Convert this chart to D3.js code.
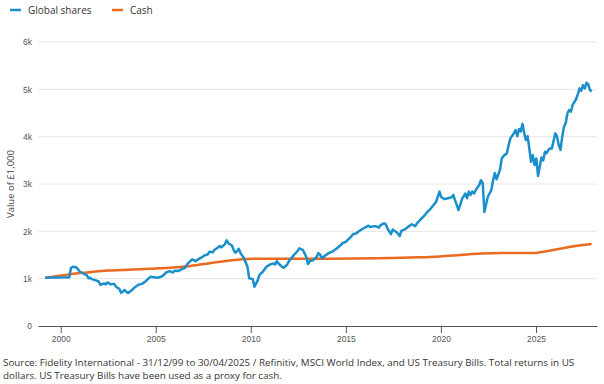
<!DOCTYPE html>
<html>
<head>
<meta charset="utf-8">
<script src="https://cdn.jsdelivr.net/npm/d3@7"></script>
<style>
  body { margin: 0; background: #fff; }
  svg { display: block; font-family: 'Open Sans', Lato, sans-serif; }
</style>
</head>
<body>
<div class="chart"></div>
<script>
// series names / colours
const seriesNames = ['Global shares', 'Cash']
const seriesColors = ['#1a8fcc', '#eb6a1f']

// global shares, value of £1,000 (monthly)
const sharesDates = [
  '1999-01','2000-03','2000-04','2000-05','2000-07','2000-08','2000-09','2000-10','2000-12',
  '2001-01','2001-02','2001-03','2001-04','2001-06','2001-08','2001-09','2001-11','2001-12',
  '2002-01','2002-03','2002-05','2002-06','2002-08','2002-09','2002-11','2002-12',
  '2003-01','2003-03','2003-05','2003-07','2003-09','2003-11',
  '2004-01','2004-02','2004-04','2004-06','2004-08','2004-09','2004-11',
  '2005-01','2005-03','2005-04','2005-06','2005-08','2005-10','2005-11',
  '2006-01','2006-02','2006-04','2006-06','2006-08','2006-09','2006-11','2006-12',
  '2007-02','2007-03','2007-05','2007-06','2007-07','2007-09','2007-10','2007-11',
  '2008-01','2008-02','2008-03','2008-04','2008-05','2008-06','2008-08','2008-10','2008-11',
  '2009-01','2009-02','2009-04','2009-05','2009-07','2009-09','2009-11',
  '2010-01','2010-02','2010-03','2010-04','2010-06','2010-07','2010-09','2010-10','2010-12',
  '2011-01','2011-03','2011-04','2011-06','2011-07','2011-08','2011-09','2011-10','2011-12',
  '2012-02','2012-03','2012-04','2012-05','2012-07','2012-09','2012-11',
  '2013-01','2013-03','2013-04','2013-05','2013-07','2013-08','2013-10','2013-11',
  '2014-01','2014-02','2014-04','2014-05','2014-07','2014-08','2014-09','2014-11','2014-12',
  '2015-02','2015-03','2015-05','2015-06','2015-07','2015-09','2015-10','2015-11','2015-12',
  '2016-02','2016-03','2016-05','2016-07','2016-09','2016-11','2016-12',
  '2017-02','2017-04','2017-06','2017-08','2017-09','2017-11','2017-12',
  '2018-01','2018-02','2018-04','2018-06','2018-08','2018-09','2018-10','2018-11','2018-12',
  '2019-01','2019-02','2019-04','2019-05','2019-06','2019-07','2019-08','2019-09','2019-10','2019-12',
  '2020-01','2020-02','2020-03','2020-05','2020-07','2020-08','2020-09','2020-10','2020-12',
  '2021-01','2021-02','2021-04','2021-05','2021-06','2021-08','2021-09','2021-10','2021-11','2021-12',
  '2022-01','2022-02','2022-03','2022-04','2022-05','2022-06','2022-07','2022-08','2022-09','2022-10','2022-11','2022-12',
  '2023-01','2023-02','2023-03','2023-04','2023-05','2023-06','2023-08','2023-09','2023-10','2023-11','2023-12',
  '2024-01','2024-02','2024-03','2024-04','2024-05','2024-06','2024-08','2024-09','2024-10','2024-11','2024-12',
  '2025-01','2025-02','2025-03','2025-04','2025-05'
]
const sharesValues = [
  1020,1030,1230,1250,1240,1200,1150,1130,1090,
  1080,1010,1020,990,970,940,870,900,880,
  920,880,890,830,780,700,760,720,
  700,750,820,870,890,940,
  1010,1040,1030,1020,1040,1060,1130,
  1160,1130,1170,1160,1200,1230,1300,
  1370,1410,1370,1420,1460,1490,1510,1570,
  1560,1610,1660,1690,1660,1730,1810,1750,
  1700,1610,1550,1580,1630,1540,1430,1250,1010,
  990,830,970,1080,1150,1250,1300,
  1320,1300,1370,1320,1250,1230,1300,1370,1460,
  1510,1580,1640,1610,1540,1460,1310,1370,1390,
  1460,1540,1510,1430,1490,1540,1570,
  1620,1680,1710,1750,1780,1820,1890,1940,
  1960,1990,2040,2060,2100,2120,2090,2110,2110,
  2080,2130,2170,2150,2060,1940,2040,2010,1990,
  1900,2010,2040,2100,2150,2110,2170,
  2250,2320,2410,2480,2530,2620,2720,
  2840,2720,2680,2700,2720,2770,2660,2560,2450,
  2560,2680,2800,2700,2840,2770,2840,2800,2870,2980,
  3080,3020,2410,2730,2870,3080,3230,3100,3300,
  3540,3590,3650,3820,3960,4070,4140,4010,4160,4110,
  4270,4070,3930,4010,3750,3470,3610,3400,3540,3170,3370,3560,
  3500,3680,3650,3720,3750,3750,4070,4000,3820,3720,4000,
  4210,4290,4490,4560,4530,4670,4790,4900,5020,4970,5090,
  5020,5140,5110,4990,4950
]

// cash (US Treasury Bills), value of £1,000
const cashDates = [
  '1999-01','1999-07','2000-01','2000-07','2001-01','2002-01','2003-01','2004-01',
  '2005-01','2006-01','2007-01','2008-01','2008-07','2009-01','2012-01','2015-01',
  '2017-01','2018-01','2019-01','2020-01','2021-01','2022-07','2023-01','2024-01','2025-05'
]
const cashValues = [
  1020,1050,1080,1110,1130,1170,1190,1210,
  1230,1270,1330,1390,1410,1420,1420,1430,
  1450,1470,1500,1530,1540,1540,1570,1650,1730
]

// axis labels
const yTicks = [0, 1000, 2000, 3000, 4000, 5000, 6000]
const xTickYears = [2000, 2005, 2010, 2015, 2020, 2025]
const yAxisTitle = 'Value of £1,000'
const sourceLines = [
  'Source: Fidelity International - 31/12/99 to 30/04/2025 / Refinitiv, MSCI World Index, and US Treasury Bills. Total returns in US',
  'dollars. US Treasury Bills have been used as a proxy for cash.'
]

const width = 604
const height = 384
const plot = { left: 38, right: 597, top: 42, bottom: 326 }

const parseMonth = d3.timeParse('%Y-%m')
const shares = sharesDates.map((d, i) => ({ date: parseMonth(d), value: sharesValues[i] }))
const cash = cashDates.map((d, i) => ({ date: parseMonth(d), value: cashValues[i] }))

const svg = d3
  .select('.chart')
  .append('svg')
  .attr('width', width)
  .attr('height', height)

const xScale = d3
  .scaleTime()
  .domain([new Date(1998, 7, 29), new Date(2025, 7, 4)])
  .range([plot.left, plot.right])

// the picture's year ticks sit on their own even spacing
const xAxisScale = d3
  .scaleLinear()
  .domain([1998.806, 2028.21])
  .range([plot.left, plot.right])

const yScale = d3
  .scaleLinear()
  .domain([0, 6000])
  .range([plot.bottom, plot.top])

// gridlines
svg
  .append('g')
  .selectAll('line')
  .data(yTicks.filter(d => d > 0))
  .enter()
  .append('line')
  .attr('x1', plot.left)
  .attr('x2', plot.right)
  .attr('y1', d => yScale(d))
  .attr('y2', d => yScale(d))
  .attr('stroke', '#e6e6e6')
  .attr('stroke-width', 1)

// y axis labels
const yAxis = svg
  .append('g')
  .attr('transform', `translate(${plot.left - 6}, 0)`)
  .call(d3.axisLeft(yScale)
    .tickValues(yTicks)
    .tickSize(0)
    .tickPadding(0)
    .tickFormat(d => d === 0 ? '0' : `${d / 1000}k`))
yAxis.select('.domain').remove()
yAxis.selectAll('text')
  .attr('fill', '#555')
  .style('font-size', '8.5px')

// x axis
const xAxis = svg
  .append('g')
  .attr('transform', `translate(0, ${plot.bottom})`)
  .call(d3.axisBottom(xAxisScale)
    .tickValues(xTickYears)
    .tickSize(7)
    .tickSizeOuter(0)
    .tickPadding(3)
    .tickFormat(d3.format('d')))
xAxis.select('.domain').attr('stroke', '#555')
xAxis.selectAll('.tick line').attr('stroke', '#555')
xAxis.selectAll('text')
  .attr('fill', '#555')
  .style('font-size', '8.5px')

// y axis title
svg
  .append('text')
  .attr('transform', `translate(14, 184) rotate(-90)`)
  .attr('text-anchor', 'middle')
  .attr('fill', '#444')
  .style('font-size', '9.5px')
  .text(yAxisTitle)

const line = d3
  .line()
  .x(d => xScale(d.date))
  .y(d => yScale(d.value))

const cashLine = d3
  .line()
  .x(d => xScale(d.date))
  .y(d => yScale(d.value))
  .curve(d3.curveMonotoneX)

svg
  .append('path')
  .datum(cash)
  .style('fill', 'none')
  .attr('stroke', seriesColors[1])
  .attr('stroke-width', 2.5)
  .attr('stroke-linejoin', 'round')
  .attr('d', cashLine)

svg
  .append('path')
  .datum(shares)
  .style('fill', 'none')
  .attr('stroke', seriesColors[0])
  .attr('stroke-width', 2.5)
  .attr('stroke-linejoin', 'round')
  .attr('d', line)

/* Legend */
const legendX = [10, 112]
const legend = svg
  .selectAll('.legendItem')
  .data(seriesNames)
  .enter()
  .append('g')
  .attr('class', 'legendItem')
  .attr('transform', (d, i) => `translate(${legendX[i]}, 10)`)
legend
  .append('line')
  .attr('x1', 0)
  .attr('x2', 11)
  .attr('stroke', (d, i) => seriesColors[i])
  .attr('stroke-width', 2.5)
legend
  .append('text')
  .attr('x', 18)
  .attr('y', 3.5)
  .attr('fill', '#333')
  .style('font-size', '10px')
  .text(d => d)

// source note
svg
  .append('g')
  .selectAll('text')
  .data(sourceLines)
  .enter()
  .append('text')
  .attr('x', 3)
  .attr('y', (d, i) => 366 + i * 13)
  .attr('fill', '#333')
  .style('font-size', '9.85px')
  .text(d => d)
</script>
</body>
</html>
